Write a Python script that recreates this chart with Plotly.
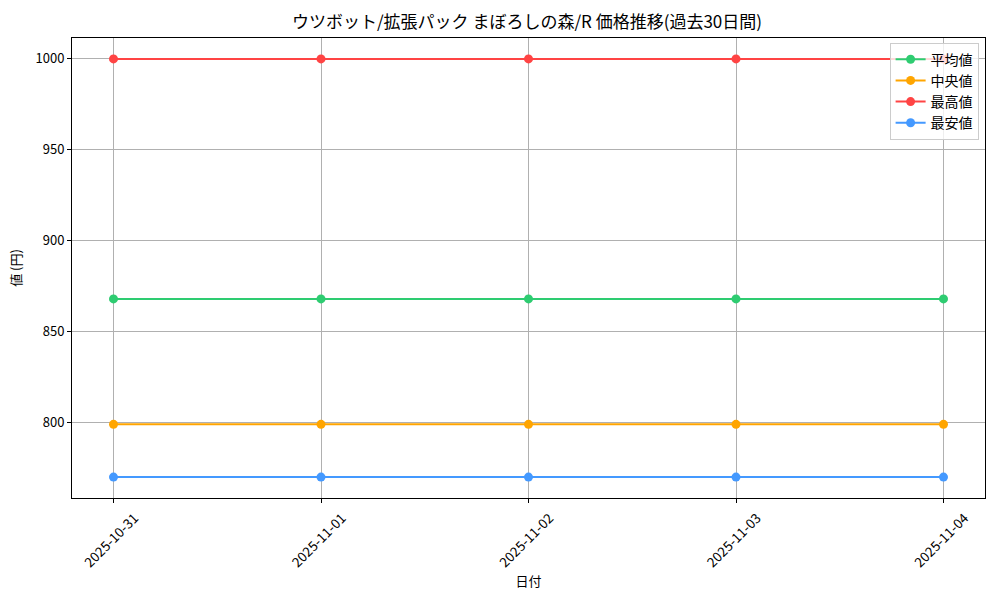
import plotly.graph_objects as go

dates = ["2025-10-31", "2025-11-01", "2025-11-02", "2025-11-03", "2025-11-04"]
avg_vals = [868, 868, 868, 868, 868]
median_vals = [799, 799, 799, 799, 799]
max_vals = [1000, 1000, 1000, 1000, 1000]
min_vals = [770, 770, 770, 770, 770]
series_names = ["平均値", "中央値", "最高値", "最安値"]
series_colors = ["#2ecc71", "#ffa500", "#ff4444", "#4499ff"]
y_ticks = [800, 850, 900, 950, 1000]

FONT = "Noto Sans CJK JP"

fig = go.Figure()
for name, vals, col in zip(series_names, [avg_vals, median_vals, max_vals, min_vals], series_colors):
    fig.add_trace(go.Scatter(
        x=dates, y=vals, name=name, mode="lines+markers",
        line=dict(color=col, width=2), marker=dict(color=col, size=9),
    ))

fig.update_layout(
    width=1000, height=600,
    paper_bgcolor="white", plot_bgcolor="white",
    margin=dict(l=72, r=15, t=38, b=102, autoexpand=False),
    font=dict(family=FONT, size=12, color="black"),
    title=dict(text="ウツボット/拡張パック まぼろしの森/R 価格推移(過去30日間)",
               x=0.527, xanchor="center", y=0.963, yanchor="middle",
               font=dict(family=FONT, size=17, color="black")),
    showlegend=True,
    legend=dict(x=0.993, y=0.99, xanchor="right", yanchor="top",
                bgcolor="rgba(255,255,255,0.8)", bordercolor="#cccccc", borderwidth=1,
                font=dict(family=FONT, size=14), tracegroupgap=2, itemwidth=30),
)
fig.update_xaxes(
    type="date", range=["2025-10-30 19:12", "2025-11-04 04:48"],
    tickvals=dates, ticktext=dates, tickangle=-45,
    ticklabelshift=21, ticklabelstandoff=2,
    showgrid=True, gridcolor="#b0b0b0", gridwidth=1,
    showline=True, linecolor="black", linewidth=1, mirror=True,
    ticks="outside", ticklen=4, tickcolor="black",
    title=dict(text="日付", font=dict(family=FONT, size=13), standoff=4),
    tickfont=dict(family=FONT, size=13.5), zeroline=False,
)
fig.update_yaxes(
    range=[758.5, 1011.5], tickvals=y_ticks,
    showgrid=True, gridcolor="#b0b0b0", gridwidth=1,
    showline=True, linecolor="black", linewidth=1, mirror=True,
    ticks="outside", ticklen=4, tickcolor="black",
    title=dict(text="値 (円)", font=dict(family=FONT, size=13), standoff=10),
    tickfont=dict(family=FONT, size=13), zeroline=False,
)

fig.write_html("out.html", config={"displayModeBar": False},
               post_script="document.body.style.margin='0';")
